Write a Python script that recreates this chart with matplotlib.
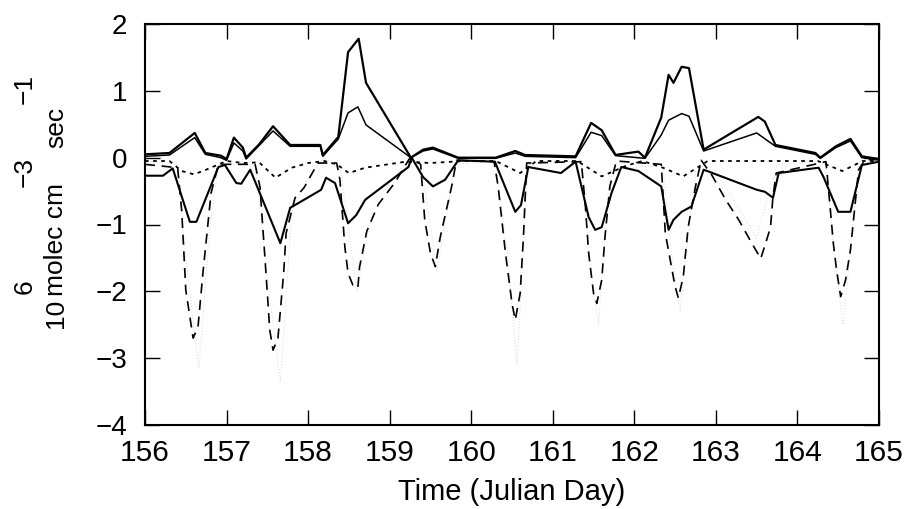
import numpy as np
import matplotlib.pyplot as plt

plt.rcParams['font.family'] = ['Liberation Sans', 'DejaVu Sans']

# top solid curve (largest production term)
xa = [156.0, 156.3, 156.61, 156.74, 156.93, 157.0, 157.09, 157.2, 157.24, 157.4, 157.57, 157.78,
      158.15, 158.18, 158.37, 158.49, 158.62, 158.71, 159.26, 159.41, 159.53, 159.84, 160.3,
      160.54, 160.66, 161.28, 161.47, 161.6, 161.77, 161.93, 162.05, 162.13, 162.33, 162.42,
      162.48, 162.58, 162.67, 162.85, 163.15, 163.52, 163.6, 163.73, 164.22, 164.28, 164.47,
      164.65, 164.79, 165.0]
ya = [0.05, 0.07, 0.37, 0.07, 0.03, -0.02, 0.3, 0.15, 0.0, 0.2, 0.47, 0.19,
      0.19, 0.04, 0.31, 1.58, 1.78, 1.12, 0.0, 0.12, 0.15, 0.0, 0.0,
      0.1, 0.04, 0.02, 0.52, 0.41, 0.04, 0.07, 0.09, 0.0, 0.6, 1.24,
      1.12, 1.36, 1.34, 0.12, 0.34, 0.61, 0.54, 0.19, 0.07, 0.0, 0.17,
      0.28, 0.02, -0.02]

# second solid curve
xb = [156.0, 156.3, 156.61, 156.74, 156.93, 157.0, 157.09, 157.2, 157.24, 157.57, 157.78,
      158.15, 158.18, 158.37, 158.49, 158.61, 158.71, 159.26, 159.41, 159.53, 159.84, 160.3,
      160.54, 160.66, 161.28, 161.47, 161.6, 161.77, 162.13, 162.33, 162.42, 162.58, 162.67,
      162.85, 163.5, 163.73, 164.22, 164.28, 164.47, 164.65, 164.79, 165.0]
yb = [0.02, 0.04, 0.3, 0.05, 0.0, -0.04, 0.22, 0.1, -0.02, 0.4, 0.17,
      0.17, 0.02, 0.28, 0.67, 0.76, 0.49, 0.0, 0.1, 0.13, -0.01, -0.01,
      0.07, 0.02, 0.0, 0.38, 0.33, 0.03, -0.01, 0.34, 0.56, 0.66, 0.62,
      0.1, 0.37, 0.17, 0.05, -0.01, 0.15, 0.25, 0.0, -0.03]

# short-dash curve
xc = [156.0, 156.3, 156.45, 156.6, 156.75, 157.0, 157.2, 157.4, 157.6, 157.8, 158.0, 158.2,
      158.35, 158.5, 158.7, 159.2, 159.5, 159.9, 160.3, 160.6, 160.8, 161.3, 161.6, 161.9,
      162.1, 162.35, 162.6, 162.9, 163.5, 164.25, 164.55, 164.8, 165.0]
yc = [-0.05, -0.05, -0.2, -0.25, -0.18, -0.05, -0.08, -0.07, -0.3, -0.15, -0.08, -0.05,
      -0.1, -0.23, -0.15, -0.06, -0.08, -0.05, -0.05, -0.23, -0.05, -0.05, -0.28, -0.12,
      -0.05, -0.15, -0.28, -0.05, -0.05, -0.05, -0.2, -0.05, -0.05]

# negative solid curve
xd = [156.0, 156.22, 156.34, 156.55, 156.63, 156.9, 156.98, 157.12, 157.18, 157.29, 157.66,
      157.78, 157.88, 158.16, 158.22, 158.33, 158.49, 158.59, 158.7, 159.23, 159.27, 159.41,
      159.53, 159.68, 159.84, 160.29, 160.54, 160.61, 160.7, 161.1, 161.28, 161.44, 161.52,
      161.6, 161.72, 161.84, 162.05, 162.33, 162.42, 162.48, 162.58, 162.7, 162.85, 163.5,
      163.6, 163.7, 163.77, 164.26, 164.32, 164.5, 164.65, 164.79, 165.0]
yd = [-0.27, -0.27, -0.16, -0.96, -0.96, -0.14, -0.11, -0.38, -0.39, -0.18, -1.28,
      -0.75, -0.68, -0.48, -0.3, -0.38, -0.98, -0.86, -0.63, -0.14, 0.0, -0.29,
      -0.43, -0.33, -0.04, -0.06, -0.81, -0.71, -0.14, -0.23, -0.06, -0.89, -1.08,
      -1.04, -0.53, -0.14, -0.2, -0.43, -1.08, -0.93, -0.81, -0.73, -0.18, -0.48,
      -0.51, -0.6, -0.23, -0.15, -0.29, -0.81, -0.81, -0.11, -0.06]

# long-dash curve (largest loss term)
xe = [156.0, 156.4, 156.45, 156.5, 156.59, 156.65, 156.71, 156.81, 156.9, 157.35, 157.41,
      157.47, 157.53, 157.57, 157.63, 157.7, 157.73, 157.84, 157.95, 158.12, 158.35, 158.39,
      158.45, 158.49, 158.55, 158.61, 158.63, 158.72, 158.86, 159.06, 159.25, 159.38, 159.43,
      159.5, 159.56, 159.62, 159.76, 159.82, 160.28, 160.33, 160.42, 160.5, 160.54, 160.6,
      160.64, 160.68, 161.35, 161.4, 161.44, 161.5, 161.54, 161.6, 161.64, 161.7, 161.78,
      162.33, 162.38, 162.44, 162.5, 162.54, 162.6, 162.66, 162.75, 162.82, 162.95, 163.12,
      163.28, 163.44, 163.55, 163.61, 163.67, 163.7, 163.74, 164.35, 164.4, 164.44, 164.48,
      164.53, 164.59, 164.65, 164.7, 164.75, 164.83, 165.0]
ye = [-0.1, -0.15, -0.79, -1.98, -2.7, -2.53, -1.73, -0.53, -0.1, -0.1, -0.44,
      -1.49, -2.58, -2.88, -2.7, -1.73, -1.13, -0.6, -0.45, -0.08, -0.08, -0.33,
      -1.33, -1.73, -1.91, -1.95, -1.64, -1.1, -0.7, -0.38, 0.0, -0.1, -0.93,
      -1.43, -1.63, -1.19, -0.43, -0.04, -0.06, -0.43, -1.43, -2.18, -2.43, -2.03,
      -1.19, -0.08, -0.06, -0.73, -1.43, -2.03, -2.18, -1.83, -1.19, -0.43, -0.05,
      -0.1, -1.13, -1.53, -1.93, -2.1, -1.78, -1.04, -0.43, -0.04, -0.26, -0.63,
      -0.93, -1.28, -1.51, -1.28, -1.04, -0.58, -0.23, -0.06, -0.73, -1.28, -1.68,
      -2.08, -1.83, -1.38, -0.78, -0.18, -0.03, -0.03]

# faint dotted curve
xf = [156.0, 156.4, 156.5, 156.66, 156.8, 156.9, 157.35, 157.5, 157.66, 157.8, 158.0, 158.2,
      158.4, 158.6, 158.8, 159.25, 159.4, 159.58, 159.8, 160.3, 160.45, 160.56, 160.7, 161.35,
      161.45, 161.56, 161.7, 162.35, 162.45, 162.56, 162.75, 163.0, 163.5, 163.75, 164.35,
      164.45, 164.56, 164.75, 165.0]
yf = [-0.05, -0.1, -1.5, -3.15, -1.0, -0.1, -0.1, -1.8, -3.35, -0.8, -0.3, 0.0,
      -0.2, -2.0, -0.7, 0.0, -0.2, -1.7, -0.1, -0.05, -1.5, -3.1, -0.1, -0.05,
      -1.5, -2.5, -0.2, -0.1, -1.4, -2.3, -0.2, -0.2, -1.2, -0.1, -0.05,
      -1.5, -2.5, -0.1, -0.05]

xticks = list(range(156, 166))
yticks = list(range(-4, 3))

fig = plt.figure(figsize=(9.06, 5.09), dpi=100)
ax = fig.add_axes([145 / 906, 1 - 425 / 509, 734 / 906, 401 / 509])

ax.plot(xf, yf, color='0.85', lw=0.7, ls=(0, (1, 2)))
ax.plot(xe, ye, color='k', lw=1.2, ls=(0, (6, 4)))
ax.plot(xc, yc, color='k', lw=1.3, ls=(0, (2, 2.5)))
ax.plot(xd, yd, color='k', lw=1.5)
ax.plot(xb, yb, color='k', lw=1.1)
ax.plot(xa, ya, color='k', lw=1.6)

ax.set_xlim(156, 165)
ax.set_ylim(-4, 2)
ax.set_xticks(xticks)
ax.set_yticks(yticks)
ax.tick_params(axis='both', direction='in', top=True, right=True, length=11, width=1)
ax.tick_params(axis='x', labelsize=21.5, pad=10)
ax.tick_params(axis='y', labelsize=20, pad=13)
for s in ax.spines.values():
    s.set_linewidth(1.5)

ax.set_xlabel('Time (Julian Day)', fontsize=21, labelpad=8)

# y axis label, drawn in pieces with raised exponents
def ytext(px, py, s):
    fig.text(px / 906, 1 - py / 509, s, rotation=90, rotation_mode='anchor',
             ha='center', va='baseline', fontsize=19)

ytext(63, 313, '10')
ytext(63, 239, 'molec cm')
ytext(63, 127, 'sec')
ytext(32, 287, '6')
ytext(32, 172, '\u22123')
ytext(32, 89, '\u22121')

fig.savefig('out.png', dpi=100)
